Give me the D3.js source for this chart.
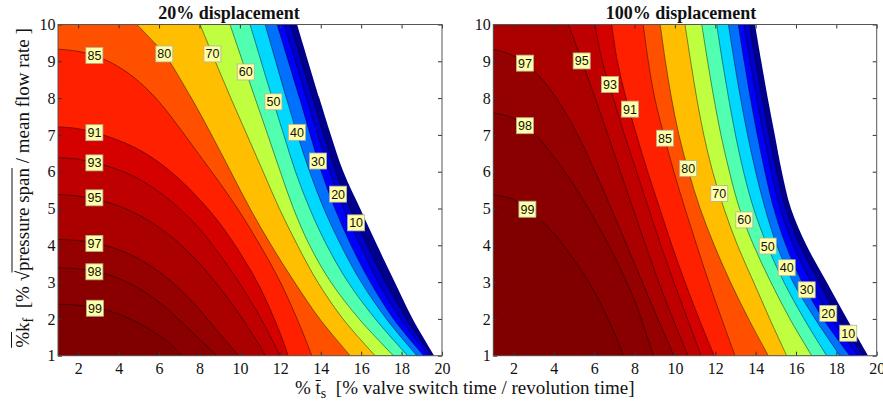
<!DOCTYPE html>
<html>
<head>
<meta charset="utf-8">
<script src="https://cdn.jsdelivr.net/npm/d3@7"></script>
<style>
  html, body { margin: 0; padding: 0; background: #fff; }
  svg { display: block; }
</style>
</head>
<body>
<svg id="chart" width="883" height="410"></svg>
<script>
// ---- axis ticks ----
const tsTicks = [2, 4, 6, 8, 10, 12, 14, 16, 18, 20];
const kfTicks = [1, 2, 3, 4, 5, 6, 7, 8, 9, 10];

// ---- efficiency levels (0 = edge of the feasible region) ----
const levels = [0, 10, 20, 30, 40, 50, 60, 70, 80, 85, 91, 93, 95, 97, 98, 99];

// ---- 20% displacement: iso-efficiency lines, points as [ts, kf] ----
const left0  = [[12.83,10],[13.93,8],[14.5,7],[15.12,6],[15.95,5],[16.79,4],[17.66,3],[18.55,2],[19.62,1]];
const left10 = [[12.5,10],[13.6,8],[14.15,7],[14.75,6],[15.45,5],[16.3,4],[17.2,3],[18.25,2],[19.5,1]];
const left20 = [[12.2,10],[13.3,8],[13.85,7],[14.45,6],[15.12,5],[15.95,4],[16.85,3],[17.95,2],[19.37,1]];
const left30 = [[11.84,10],[12.95,8],[13.48,7],[14.03,6],[14.7,5],[15.5,4],[16.45,3],[17.6,2],[19.1,1]];
const left40 = [[11.25,10],[12.3,8],[12.85,7],[13.45,6],[14.15,5],[15.0,4],[16.0,3],[17.25,2],[18.76,1]];
const left50 = [[10.5,10],[11.6,8],[12.17,7],[12.75,6],[13.45,5],[14.3,4],[15.35,3],[16.7,2],[18.3,1]];
const left60 = [[9.51,10],[10.75,8],[11.38,7],[12.0,6],[12.65,5],[13.45,4],[14.5,3],[15.9,2],[17.6,1]];
const left70 = [[8.03,10],[8.78,9],[9.55,8],[10.35,7],[11.15,6],[11.95,5],[12.85,4],[13.85,3],[15.1,2],[16.69,1]];
const left80 = [[4.91,10],[5.6,9.6],[6.26,9.2],[7.6,8],[8.6,7],[9.55,6],[10.5,5],[11.55,4],[12.7,3],[13.95,2],[15.46,1]];
const left85 = [[1,9.33],[2,9.27],[3,9.12],[4,8.85],[5,8.45],[6,7.9],[7,7.2],[8,6.45],[9,5.7],[10,4.9],[11,4.0],[12,3.0],[13,1.78],[13.56,1]];
const left91 = [[1,7.22],[2,7.17],[3,7.04],[4,6.85],[5,6.6],[6,6.25],[7,5.8],[8,5.25],[9,4.6],[10,3.8],[11,2.85],[12,1.6],[12.39,1]];
const left93 = [[1,6.38],[2,6.34],[3,6.22],[4,6.05],[5,5.8],[6,5.45],[7,5.0],[8,4.45],[9,3.75],[10,2.95],[11,2.05],[11.99,1]];
const left95 = [[1,5.38],[2,5.34],[3,5.24],[4,5.07],[5,4.82],[6,4.48],[7,4.05],[8,3.5],[9,2.85],[10,2.1],[11,1.25],[11.25,1]];
const left97 = [[1,4.16],[2,4.13],[3,4.04],[4,3.88],[5,3.63],[6,3.28],[7,2.82],[8,2.25],[9,1.6],[9.93,1]];
const left98 = [[1,3.39],[2,3.36],[3,3.27],[4,3.1],[5,2.83],[6,2.45],[7,1.97],[8,1.45],[8.86,1]];
const left99 = [[1,2.40],[2,2.37],[3,2.29],[4,2.13],[5,1.88],[6,1.55],[6.6,1.3],[7.12,1]];

// inline labels: [level, ts, kf]
const leftLabels = [[85,2.8,9.16],[80,6.26,9.2],[70,8.64,9.2],[60,10.29,8.71],[50,11.66,7.9],
  [40,12.82,7.07],[30,13.86,6.29],[20,14.86,5.39],[10,15.75,4.61],[91,2.8,7.06],[93,2.8,6.24],
  [95,2.8,5.29],[97,2.8,4.05],[98,2.8,3.28],[99,2.83,2.29]];

// ---- 100% displacement ----
const right0  = [[13.97,10],[14.28,9],[14.6,8],[14.95,7],[15.3,6],[15.75,5],[16.52,4],[17.52,3],[18.53,2],[19.58,1]];
const right10 = [[13.7,10],[14.0,9],[14.32,8],[14.67,7],[15.05,6],[15.5,5],[16.2,4],[17.15,3],[18.1,2],[19.34,1]];
const right20 = [[13.43,10],[13.73,9],[14.05,8],[14.4,7],[14.78,6],[15.22,5],[15.87,4],[16.75,3],[17.75,2],[19.09,1]];
const right30 = [[13.14,10],[13.43,9],[13.74,8],[14.08,7],[14.46,6],[14.9,5],[15.5,4],[16.3,3],[17.35,2],[18.67,1]];
const right40 = [[12.65,10],[12.94,9],[13.25,8],[13.6,7],[14.0,6],[14.47,5],[15.05,4],[15.85,3],[16.95,2],[18.18,1]];
const right50 = [[12.07,10],[12.35,9],[12.66,8],[13.0,7],[13.4,6],[13.9,5],[14.57,4],[15.4,3],[16.4,2],[17.52,1]];
const right60 = [[11.33,10],[11.62,9],[11.93,8],[12.28,7],[12.7,6],[13.2,5],[13.9,4],[14.75,3],[15.7,2],[16.78,1]];
const right70 = [[10.5,10],[10.78,9],[11.08,8],[11.43,7],[11.87,6],[12.43,5],[13.1,4],[13.9,3],[14.7,2],[15.54,1]];
const right80 = [[9.27,10],[9.53,9],[9.83,8],[10.2,7],[10.68,6],[11.25,5],[11.95,4],[12.75,3],[13.65,2],[14.63,1]];
const right85 = [[8.43,10],[8.68,9],[9.0,8],[9.45,7],[9.95,6],[10.5,5],[11.08,4],[11.68,3],[12.32,2],[12.98,1]];
const right91 = [[6.87,10],[7.15,9],[7.58,8],[8.1,7],[8.65,6],[9.25,5],[9.85,4],[10.5,3],[11.2,2],[11.95,1]];
const right93 = [[6.04,10],[6.4,9],[6.95,8],[7.5,7],[8.1,6],[8.7,5],[9.3,4],[9.95,3],[10.62,2],[11.3,1]];
const right95 = [[4.72,10],[5.4,9],[6.05,8],[6.68,7],[7.3,6],[7.92,5],[8.55,4],[9.2,3],[9.9,2],[10.65,1]];
const right97 = [[1,9.33],[2,9.15],[3,8.75],[4,8.1],[5,7.2],[6,6.05],[7,4.8],[8,3.5],[9,2.2],[9.95,1]];
const right98 = [[1,7.6],[2,7.45],[3,7.05],[4,6.4],[5,5.63],[6,4.72],[7,3.7],[8,2.5],[8.93,1]];
const right99 = [[1,5.37],[2,5.25],[3,4.86],[4,4.32],[5,3.6],[6,2.75],[7,1.62],[7.44,1]];

const rightLabels = [[97,2.57,8.95],[95,5.38,9.01],[93,6.78,8.37],[91,7.77,7.70],[98,2.57,7.25],
  [85,9.51,6.91],[80,10.66,6.09],[70,12.2,5.41],[60,13.44,4.69],[50,14.6,3.98],[40,15.54,3.39],
  [30,16.53,2.79],[20,17.6,2.15],[10,18.59,1.61],[99,2.69,4.98]];

// ---- band colours, one per level (fill for efficiency >= level) ----
const bandColors = ["#00008c","#0000cc","#0000ff","#0070ff","#00d8ff","#50ffb0","#bfff3f",
  "#ffbf00","#ff5000","#ff2000","#d50000","#bf0000","#aa0000","#950000","#8a0000","#800000"];

const leftLines  = [left0, left10, left20, left30, left40, left50, left60, left70, left80,
                    left85, left91, left93, left95, left97, left98, left99];
const rightLines = [right0, right10, right20, right30, right40, right50, right60, right70, right80,
                    right85, right91, right93, right95, right97, right98, right99];

const svg = d3.select("#chart");
const defs = svg.append("defs");
const yTop = 24.5, yBot = 355.7;
const serif = "'Liberation Serif', 'Times New Roman', serif";

const panels = [
  { id: "a", x0: 58, x1: 442, lines: leftLines, labels: leftLabels, title: "20% displacement", titleX: 229 },
  { id: "b", x0: 493.3, x1: 876.7, lines: rightLines, labels: rightLabels, title: "100% displacement", titleX: 681 }
];

panels.forEach(p => {
  const x = d3.scaleLinear().domain([1, 20]).range([p.x0, p.x1]);
  const y = d3.scaleLinear().domain([1, 10]).range([yBot, yTop]);
  const g = svg.append("g");

  defs.append("clipPath").attr("id", "clip-" + p.id)
    .append("rect").attr("x", p.x0).attr("y", yTop)
    .attr("width", p.x1 - p.x0).attr("height", yBot - yTop);

  const body = g.append("g").attr("clip-path", `url(#clip-${p.id})`);
  const line = d3.line().x(d => x(d[0])).y(d => y(d[1])).curve(d3.curveCatmullRom.alpha(0.5));

  // filled region "efficiency >= level": the iso-line closed along the bottom/left/top edges
  const region = pts => {
    let d = line(pts) + `L${x(1)},${y(1)}`;
    if (pts[0][0] > 1) d += `L${x(1)},${y(10)}`;
    return d + "Z";
  };

  body.selectAll("path.band").data(p.lines).join("path")
    .attr("class", "band")
    .attr("d", region)
    .attr("fill", (d, i) => bandColors[i]);

  body.selectAll("path.iso").data(p.lines.slice(1)).join("path")
    .attr("class", "iso")
    .attr("d", line)
    .attr("fill", "none")
    .attr("stroke", "#000")
    .attr("stroke-width", 0.6)
    .attr("stroke-opacity", 0.75);

  // axes with inward ticks on all four sides
  const tickCol = "#333";
  const bottom = g.append("g").attr("transform", `translate(0,${yBot})`)
    .call(d3.axisBottom(x).tickValues(tsTicks).tickSize(-4).tickPadding(7));
  const left = g.append("g").attr("transform", `translate(${p.x0},0)`)
    .call(d3.axisLeft(y).tickValues(kfTicks).tickSize(-4).tickPadding(2.5));
  const top = g.append("g").attr("transform", `translate(0,${yTop})`)
    .call(d3.axisTop(x).tickValues(tsTicks).tickSize(-4).tickFormat(""));
  const right = g.append("g").attr("transform", `translate(${p.x1},0)`)
    .call(d3.axisRight(y).tickValues(kfTicks).tickSize(-4).tickFormat(""));
  [bottom, left, top, right].forEach(a => {
    a.select(".domain").remove();
    a.selectAll("line").attr("stroke", tickCol);
    a.selectAll("text").attr("font-family", serif).attr("font-size", 16).attr("fill", "#111");
  });

  g.append("rect")
    .attr("x", p.x0).attr("y", yTop)
    .attr("width", p.x1 - p.x0).attr("height", yBot - yTop)
    .attr("fill", "none").attr("stroke", "#555").attr("stroke-width", 1);

  // contour labels
  const lab = g.selectAll("g.lab").data(p.labels).join("g")
    .attr("class", "lab")
    .attr("transform", d => `translate(${x(d[1])},${y(d[2])})`);
  lab.append("rect")
    .attr("x", -8.5).attr("y", -8).attr("width", 17).attr("height", 16)
    .attr("fill", "#ffffa6").attr("stroke", "#b0b0a0").attr("stroke-width", 0.8);
  lab.append("text")
    .attr("text-anchor", "middle").attr("dy", "0.36em")
    .attr("font-family", "'Liberation Sans', Arial, sans-serif").attr("font-size", 12.5)
    .attr("fill", "#111")
    .text(d => d[0]);

  // panel title
  svg.append("text")
    .attr("x", p.titleX).attr("y", 18.5)
    .attr("text-anchor", "middle")
    .attr("font-family", serif).attr("font-weight", "bold").attr("font-size", 18)
    .attr("fill", "#111")
    .text(p.title);
});

// draws a bar over characters [from, to] of a text element, in its own coordinates
function overline(parent, textNode, from, to, lift, startFrac) {
  const a = textNode.getExtentOfChar(from);
  const b = textNode.getExtentOfChar(to);
  parent.append("line")
    .attr("x1", a.x + a.width * (startFrac || 0)).attr("x2", b.x + b.width)
    .attr("y1", -lift).attr("y2", -lift)
    .attr("stroke", "#111").attr("stroke-width", 1);
}

// x axis title
const xg = svg.append("g").attr("transform", "translate(295,394)");
const xt = xg.append("text").attr("font-family", serif).attr("font-size", 19).attr("fill", "#111");
xt.append("tspan").text("%\u00a0");
xt.append("tspan").text("t");
xt.append("tspan").attr("font-size", 14).attr("dy", 4).text("s");
xt.append("tspan").attr("dy", -4).text("\u00a0\u00a0[% valve switch time / revolution time]");
overline(xg, xt.node(), 2, 2, 13.5, 0);

// y axis title
const yg = svg.append("g").attr("transform", "translate(28.5,188) rotate(-90)");
const yt = yg.append("text").attr("text-anchor", "middle")
  .attr("font-family", serif).attr("font-size", 19).attr("fill", "#111");
yt.append("tspan").text("%");
yt.append("tspan").text("k");
yt.append("tspan").attr("font-size", 14).attr("dy", 4).text("f");
yt.append("tspan").attr("dy", -4).text("\u00a0\u00a0[%\u00a0\u221a");
yt.append("tspan").text("pressure span");
yt.append("tspan").text(" / mean flow rate ]");
overline(yg, yt.node(), 0, 0, 17, 0);
overline(yg, yt.node(), 8, 21, 16.5, 0.85);
</script>
</body>
</html>
